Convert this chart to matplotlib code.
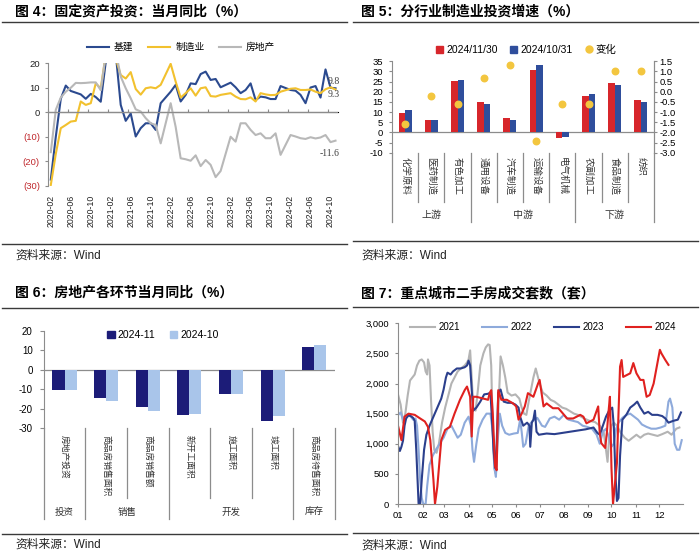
import numpy as np
import matplotlib
matplotlib.use('Agg')
import matplotlib.pyplot as plt
import matplotlib.transforms as mtransforms
from matplotlib.lines import Line2D
from matplotlib.patches import Patch

plt.rcParams['font.family'] = ['Liberation Sans', 'Noto Sans CJK SC', 'DejaVu Sans']
plt.rcParams['axes.unicode_minus'] = False

# ---------------- data: figure 4 (monthly yoy, January merged into February) ----------------
fig4_months = [f'{y}-{m:02d}' for y in range(2020, 2025) for m in range(2, 13)][:-1]
fig4_ticks = ['2020-02', '2020-06', '2020-10', '2021-02', '2021-06', '2021-10', '2022-02', '2022-06',
              '2022-10', '2023-02', '2023-06', '2023-10', '2024-02', '2024-06', '2024-10']
infra = [-27.5, -10.0, 5.5, 10.9, 8.7, 8.0, 7.3, 5.5, 7.5, 6.2, 4.3,
         36.6, 24.0, 3.0, -3.5, -0.5, -9.9, -6.5, -4.5, -4.5, -7.2, 3.7,
         8.4, 11.2, 4.4, 7.1, 11.8, 11.5, 15.6, 16.6, 13.2, 13.6, 10.2,
         12.1, 10.2, 7.8, 9.1, 11.8, 5.0, 6.4, 6.1, 5.4, 5.4, 10.7,
         9.1, 8.8, 7.1, 3.7, 10.1, 10.7, 6.0, 17.5, 10.0, 9.8]
manuf = [-29.7, -17.0, -6.5, -5.2, -3.8, -3.5, 4.4, 3.0, 3.7, 11.8, 9.8,
         37.3, 22.0, 15.2, 13.8, 16.4, 9.5, 7.2, 9.8, 10.2, 9.8, 11.2,
         19.8, 12.5, 6.0, 7.8, 9.8, 6.8, 9.8, 10.2, 6.6, 6.4, 7.1,
         7.8, 6.4, 5.4, 5.3, 6.1, 4.4, 7.8, 7.3, 7.0, 7.1, 8.4,
         9.6, 9.8, 9.1, 9.1, 9.3, 8.4, 7.8, 9.4, 10.2, 9.3]
estate = [-16.3, 1.0, 6.0, 8.4, 10.0, 12.0, 11.9, 12.0, 12.2, 12.2, 9.0,
          38.3, 25.0, 14.6, 9.8, 5.7, 1.2, 0.3, -2.4, -4.5, -5.2, -12.7,
          3.7, -6.0, -18.8, -19.2, -19.8, -17.6, -22.0, -19.5, -21.5, -26.5, -24.0,
          -10.0, -12.0, -4.5, -4.5, -7.2, -9.3, -8.6, -10.6, -10.6, -8.6, -17.4,
          -9.3, -9.9, -10.6, -10.9, -10.2, -10.7, -10.3, -9.3, -12.2, -11.6]

# ---------------- data: figure 5 ----------------
ind5 = ['化学原料', '医药制造', '有色加工', '通用设备', '汽车制造', '运输设备', '电气机械', '农副加工', '食品制造', '纺织']
nov5 = [9.6, 5.9, 25.3, 14.8, 7.2, 30.5, -2.8, 18.1, 24.5, 16.1]
oct5 = [11.0, 6.1, 25.9, 14.1, 5.9, 33.0, -2.1, 18.7, 23.3, 15.1]
chg5 = [-1.6, -0.2, -0.6, 0.7, 1.3, -2.4, -0.6, -0.6, 1.0, 1.0]
grp5 = [('上游', 0, 3), ('中游', 3, 7), ('下游', 7, 10)]

# ---------------- data: figure 6 ----------------
ind6 = ['房地产投资', '商品房销售面积', '商品房销售额', '新开工面积', '施工面积', '竣工面积', '商品房待售面积']
nov6 = [-10.4, -14.3, -19.1, -23.0, -12.6, -26.3, 11.9]
oct6 = [-10.2, -15.9, -21.0, -22.7, -12.3, -23.9, 12.6]
grp6 = [('投资', 0, 1), ('销售', 1, 3), ('开发', 3, 6), ('库存', 6, 7)]

# ---------------- data: figure 7 (day of year, units) ----------------
s2021 = [(0, 1800), (3, 1650), (6, 1350), (9, 1500), (12, 1800), (15, 2050), (18, 2100), (21, 2150), (24, 2300),
         (27, 2380), (30, 2400), (33, 2350), (35, 2200), (37, 2150), (38, 2400), (40, 2300), (42, 1700), (44, 1200),
         (46, 900), (49, 850), (52, 1000), (56, 1350), (60, 1600), (64, 1800), (68, 2000), (72, 2100), (76, 2200),
         (80, 2250), (85, 2300), (88, 2350), (90, 2400), (92, 2550), (94, 2100), (96, 1600), (99, 1550), (102, 1900),
         (105, 2300), (109, 2500), (112, 2600), (115, 2650), (117, 2640), (119, 2300), (121, 1200), (123, 600),
         (125, 500), (128, 1500), (131, 2450), (134, 2300), (137, 2100), (140, 1850), (145, 1800), (150, 1820),
         (155, 1750), (158, 1600), (161, 1500), (164, 1480), (167, 1700), (170, 1900), (173, 2100), (176, 2250),
         (178, 2150), (181, 2000), (185, 1850), (190, 1800), (195, 1730), (200, 1700), (205, 1650), (210, 1600),
         (215, 1580), (220, 1540), (225, 1500), (230, 1480), (238, 1420), (245, 1380), (252, 1360), (258, 1300),
         (263, 1200), (266, 900), (268, 700), (270, 1100), (273, 1300), (276, 1350), (280, 1300), (285, 1180),
         (290, 1100), (295, 1050), (300, 1100), (305, 1150), (310, 1100), (315, 1150), (320, 1170), (326, 1150),
         (332, 1130), (338, 1160), (345, 1200), (350, 1150), (356, 1250), (360, 1270)]
s2022 = [(0, 1480), (3, 1520), (6, 1400), (9, 1450), (13, 1480), (16, 1450), (19, 1400), (22, 1420), (24, 1300),
         (26, 900), (28, 400), (30, 100), (32, 0), (35, 0), (37, 300), (40, 650), (44, 800), (48, 900), (53, 1000),
         (58, 1100), (63, 1250), (68, 1300), (72, 1200), (76, 1100), (80, 1150), (85, 1350), (90, 1450), (93, 1300),
         (95, 900), (97, 700), (100, 1000), (103, 1250), (108, 1400), (113, 1500), (118, 1500), (121, 1200),
         (123, 600), (125, 450), (127, 1000), (130, 1500), (133, 1300), (137, 1180), (142, 1150), (148, 1170),
         (153, 1180), (156, 1400), (158, 1200), (160, 950), (163, 1000), (167, 1300), (172, 1380), (178, 1430),
         (184, 1300), (188, 1280), (194, 1420), (200, 1450), (206, 1400), (212, 1480), (218, 1400), (224, 1380),
         (230, 1360), (236, 1300), (242, 1280), (248, 1250), (254, 1150), (258, 1000), (262, 1200), (266, 1250),
         (270, 1100), (273, 950), (276, 1000), (279, 1250), (282, 1350), (287, 1430), (292, 1480), (297, 1500),
         (302, 1450), (307, 1400), (312, 1320), (318, 1280), (324, 1250), (330, 1250), (336, 1270), (342, 1300),
         (346, 1700), (348, 1750), (351, 1600), (354, 1000), (357, 900), (360, 900), (363, 1060)]
s2023 = [(0, 950), (2, 880), (4, 950), (6, 1050), (8, 1300), (10, 1420), (13, 1470), (16, 1460), (19, 1430),
         (21, 1380), (23, 900), (25, 300), (26, 0), (28, 0), (30, 400), (33, 900), (36, 1150), (40, 1300),
         (45, 1450), (50, 1600), (55, 1750), (58, 1900), (61, 2100), (63, 2180), (67, 2150), (70, 2200), (75, 2250),
         (80, 2250), (85, 2270), (88, 2300), (90, 2380), (92, 2300), (94, 1900), (96, 1550), (100, 1600),
         (105, 1700), (110, 1820), (115, 1830), (118, 1850), (120, 1400), (122, 900), (124, 600), (126, 1000),
         (128, 1850), (131, 1900), (135, 1700), (140, 1680), (145, 1680), (150, 1650), (154, 1600), (156, 1450),
         (160, 1300), (165, 1350), (168, 1300), (169, 950), (171, 1350), (173, 1400), (175, 1550), (177, 1200),
         (180, 1150), (190, 1170), (200, 1160), (210, 1180), (220, 1200), (230, 1220), (240, 1240), (250, 1270),
         (255, 1180), (258, 1150), (262, 1300), (266, 1450), (270, 1550), (274, 1600), (276, 1300), (278, 500),
         (280, 50), (282, 100), (284, 800), (287, 1400), (292, 1480), (297, 1600), (302, 1650), (306, 1700),
         (310, 1600), (315, 1500), (320, 1530), (325, 1480), (332, 1480), (338, 1460), (342, 1420), (346, 1350),
         (352, 1380), (358, 1400), (362, 1520)]
s2024 = [(0, 1280), (4, 1060), (8, 1450), (13, 1500), (21, 1480), (28, 1420), (34, 1370), (38, 1280), (41, 1060),
         (45, 400), (47, 0), (50, 290), (55, 1060), (60, 1230), (66, 1280), (72, 1500), (79, 1730), (85, 1890),
         (88, 1950), (92, 1780), (94, 1120), (96, 1780), (100, 1780), (109, 1750), (115, 1730), (117, 1840),
         (119, 1890), (121, 1500), (124, 620), (126, 560), (128, 1890), (132, 1730), (139, 1730), (147, 1670),
         (151, 1620), (154, 1400), (158, 1500), (162, 1620), (166, 1840), (173, 1780), (179, 2000), (181, 2060),
         (186, 1620), (190, 1670), (198, 1590), (205, 1590), (211, 1500), (216, 1420), (224, 1420), (233, 1480),
         (237, 1450), (241, 1340), (250, 1400), (256, 1620), (258, 1170), (260, 1010), (265, 930), (267, 1170),
         (269, 1500), (271, 1780), (273, 600), (275, 0), (280, 680), (282, 1500), (284, 2280), (286, 2390),
         (288, 2110), (297, 2170), (301, 2340), (305, 2170), (310, 2060), (314, 2060), (318, 1780), (322, 1810),
         (327, 2000), (331, 2280), (335, 2560), (337, 2500), (342, 2390), (346, 2310)]
months7 = ['01', '02', '03', '04', '05', '06', '07', '08', '09', '10', '11', '12']
month_start7 = [0, 31, 59, 90, 120, 151, 181, 212, 243, 273, 304, 334]

# ---------------- layout helpers ----------------
W, H = 700, 559
fig = plt.figure(figsize=(W / 100, H / 100), dpi=100)
AX = '#8c8c8c'


def fy(y):
    return 1 - y / H


def panel(l, t, r, b):
    return fig.add_axes([l / W, 1 - b / H, (r - l) / W, (b - t) / H])


def frame(x_text, x0, x1, title, ty, rule_top, rule_bot, sy):
    fig.text(x_text / W, fy(ty), title, fontsize=10, fontweight='bold', va='center', ha='left')
    fig.add_artist(Line2D([x0 / W, x1 / W], [fy(rule_top)] * 2, color='#3a3a3a', lw=1.0))
    fig.add_artist(Line2D([x0 / W, x1 / W], [fy(rule_bot)] * 2, color='#3a3a3a', lw=1.0))
    fig.text(x_text / W, fy(sy), '资料来源：Wind', fontsize=8.5, va='center', ha='left', color='#222222')


def category_frame(ax, n, long_edges, short_bottom, long_bottom, labels, groups, label_top, group_y, fs, gfs):
    tr = mtransforms.blended_transform_factory(ax.transData, ax.transAxes)
    for e in np.arange(-0.5, n + 0.5, 1):
        bottom = long_bottom if e in long_edges else short_bottom
        ax.plot([e, e], [0, bottom], transform=tr, color=AX, lw=0.9, clip_on=False)
    for i, lab in enumerate(labels):
        ax.text(i, label_top, lab, transform=tr, rotation=-90, ha='center', va='top', fontsize=fs, color='#333333')
    for name, a, b in groups:
        ax.text((a + b - 1) / 2, group_y, name, transform=tr, ha='center', va='center', fontsize=gfs, color='#333333')


frame(15, 2, 347, '图 4：固定资产投资：当月同比（%）', 12, 22, 244, 256)
frame(361, 353, 698, '图 5：分行业制造业投资增速（%）', 12, 22, 241, 256)
frame(15, 2, 347, '图 6：房地产各环节当月同比（%）', 293, 308, 534, 545)
frame(361, 353, 698, '图 7：重点城市二手房成交套数（套）', 293, 307, 533, 546)

# ---------------- figure 4 ----------------
ax4 = panel(48.3, 63.3, 338, 185.7)
pos4 = [(int(s[:4]) - 2020) * 12 + int(s[5:]) - 2 for s in fig4_months]
ax4.plot(pos4, infra, color='#2b4a8f', lw=1.5, label='基建')
ax4.plot(pos4, manuf, color='#f2c12e', lw=1.5, label='制造业')
ax4.plot(pos4, estate, color='#b8b8b8', lw=1.5, label='房地产')
ax4.set_xlim(-0.5, 57.5)
ax4.set_ylim(-30, 20)
yt4 = list(range(-30, 21, 10))
ax4.set_yticks(yt4)
ax4.set_yticklabels([str(v) if v >= 0 else f'({-v})' for v in yt4])
for lab, v in zip(ax4.get_yticklabels(), yt4):
    lab.set_color('#c0282d' if v < 0 else '#222222')
tick_pos4 = [(int(s[:4]) - 2020) * 12 + int(s[5:]) - 2 for s in fig4_ticks]
ax4.set_xticks(tick_pos4)
ax4.set_xticklabels(fig4_ticks, rotation=90, fontsize=6.3, color='#222222')
ax4.tick_params(axis='x', length=0, pad=6.5)
ax4.tick_params(axis='y', length=2.5, width=0.8, color=AX, labelsize=6.8, pad=3.5)
for s in ['top', 'right', 'bottom']:
    ax4.spines[s].set_visible(False)
ax4.spines['left'].set_color(AX)
ax4.axhline(0, color=AX, lw=0.9)
zero_frac = (0 - ax4.get_ylim()[0]) / (ax4.get_ylim()[1] - ax4.get_ylim()[0])
sec4 = ax4.secondary_xaxis(zero_frac)
sec4.set_xticks(np.arange(-0.5, 58, 4))
sec4.set_xticklabels([])
sec4.tick_params(length=2.5, width=0.8, color=AX)
sec4.spines['bottom'].set_visible(False)
ann = dict(textcoords='offset points', fontsize=7, color='#404040', family=['Liberation Serif'], ha='center', va='center')
ax4.annotate(f'{infra[-1]:.1f}', (pos4[-1], infra[-1]), xytext=(-1, 5), **ann)
ax4.annotate(f'{manuf[-1]:.1f}', (pos4[-1], manuf[-1]), xytext=(-1, -3.5), **ann)
ax4.annotate(f'{estate[-1]:.1f}', (pos4[-1], estate[-1]), xytext=(-4, -9), **ann)
ax4.legend(loc='center', bbox_to_anchor=(181 / W, fy(47)), bbox_transform=fig.transFigure, ncol=3,
           frameon=False, fontsize=7, handlelength=2.3, columnspacing=1.5, handletextpad=0.5)

# ---------------- figure 5 ----------------
ax5 = panel(392, 61.3, 654, 152.7)
x5 = np.arange(len(ind5))
ax5.bar(x5 - 0.125, nov5, 0.25, color='#d7262b', label='2024/11/30', zorder=2)
ax5.bar(x5 + 0.125, oct5, 0.25, color='#2f4e9c', label='2024/10/31', zorder=2)
ax5.set_xlim(-0.5, len(ind5) - 0.5)
ax5.set_ylim(-10, 35)
ax5.set_yticks(range(-10, 36, 5))
ax5.set_xticks([])
ax5.axhline(0, color=AX, lw=0.9, zorder=1)
for s in ['top', 'bottom']:
    ax5.spines[s].set_visible(False)
for s in ['left', 'right']:
    ax5.spines[s].set_color(AX)
ax5.tick_params(axis='y', length=2.5, width=0.8, color=AX, labelsize=6.8, pad=4)
ax5r = ax5.twinx()
ax5r.scatter(x5, chg5, s=22, color='#f3c63f', zorder=3, label='变化')
ax5r.set_ylim(-3.0, 1.5)
yt5r = np.arange(-3.0, 1.51, 0.5)
ax5r.set_yticks(yt5r)
ax5r.set_yticklabels([f'{v:.1f}' for v in yt5r])
for s in ['top', 'bottom', 'left']:
    ax5r.spines[s].set_visible(False)
ax5r.spines['right'].set_color(AX)
ax5r.tick_params(axis='y', length=2.5, width=0.8, color=AX, labelsize=6.8, pad=1.5)
h5 = 152.7 - 61.3
category_frame(ax5, len(ind5), {-0.5, 2.5, 6.5, 9.5}, -(202 - 152.7) / h5, -(222 - 152.7) / h5,
               ind5, grp5, -(157 - 152.7) / h5, -(215 - 152.7) / h5, 6.8, 7.2)
handles5 = [Patch(color='#d7262b'), Patch(color='#2f4e9c'),
            Line2D([], [], marker='o', ls='', color='#f3c63f', markersize=5)]
fig.legend(handles5, ['2024/11/30', '2024/10/31', '变化'], loc='center', bbox_to_anchor=(526 / W, fy(50)),
           ncol=3, frameon=False, fontsize=7.5, handlelength=0.7, handleheight=0.7, handletextpad=0.3,
           columnspacing=1.2)

# ---------------- figure 6 ----------------
ax6 = panel(43.7, 330.7, 335, 428.3)
x6 = np.arange(len(ind6))
ax6.bar(x6 - 0.145, nov6, 0.29, color='#1c1c78', zorder=2)
ax6.bar(x6 + 0.145, oct6, 0.29, color='#a9c5ea', zorder=2)
ax6.set_xlim(-0.5, len(ind6) - 0.5)
ax6.set_ylim(-30, 20)
ax6.set_yticks(range(-30, 21, 10))
ax6.set_xticks([])
ax6.axhline(0, color=AX, lw=0.9, zorder=1)
for s in ['top', 'bottom', 'right']:
    ax6.spines[s].set_visible(False)
ax6.spines['left'].set_color(AX)
ax6.tick_params(axis='y', length=3, width=0.8, color=AX, labelsize=7, pad=5)
h6 = 428.3 - 330.7
category_frame(ax6, len(ind6), {-0.5, 0.5, 2.5, 5.5, 6.5}, -(498 - 428.3) / h6, -(519 - 428.3) / h6,
               ind6, grp6, -(435 - 428.3) / h6, -(512 - 428.3) / h6, 6.3, 6.8)
handles6 = [Patch(color='#1c1c78'), Patch(color='#a9c5ea')]
fig.legend(handles6, ['2024-11', '2024-10'], loc='center', bbox_to_anchor=(163 / W, fy(335)), ncol=2,
           frameon=False, fontsize=7.5, handlelength=0.7, handleheight=0.7, handletextpad=0.3, columnspacing=1.4)

# ---------------- figure 7 ----------------
ax7 = panel(398.3, 323.3, 683.3, 504)
for series, year, color in [(s2021, '2021', '#b4b4b4'), (s2022, '2022', '#8eaadb'),
                            (s2023, '2023', '#2b3f8c'), (s2024, '2024', '#e0211f')]:
    d, v = zip(*series)
    ax7.plot(d, v, color=color, lw=1.5, label=year)
ax7.set_xlim(0, 365)
ax7.set_ylim(0, 3000)
ax7.set_yticks(range(0, 3001, 500))
ax7.set_yticklabels([f'{v:,}' for v in range(0, 3001, 500)])
ax7.set_xticks(month_start7)
ax7.set_xticklabels(months7)
for s in ['top', 'right']:
    ax7.spines[s].set_visible(False)
for s in ['left', 'bottom']:
    ax7.spines[s].set_color(AX)
ax7.tick_params(axis='both', length=2.5, width=0.8, color=AX, labelsize=6.8)
ax7.tick_params(axis='y', pad=4)
ax7.tick_params(axis='x', pad=2.5)
ax7.legend(loc='center', bbox_to_anchor=(543 / W, fy(327)), bbox_transform=fig.transFigure, ncol=4,
           frameon=False, fontsize=7, handlelength=2.6, columnspacing=2.2, handletextpad=0.4)

fig.savefig('out.png', dpi=100)
